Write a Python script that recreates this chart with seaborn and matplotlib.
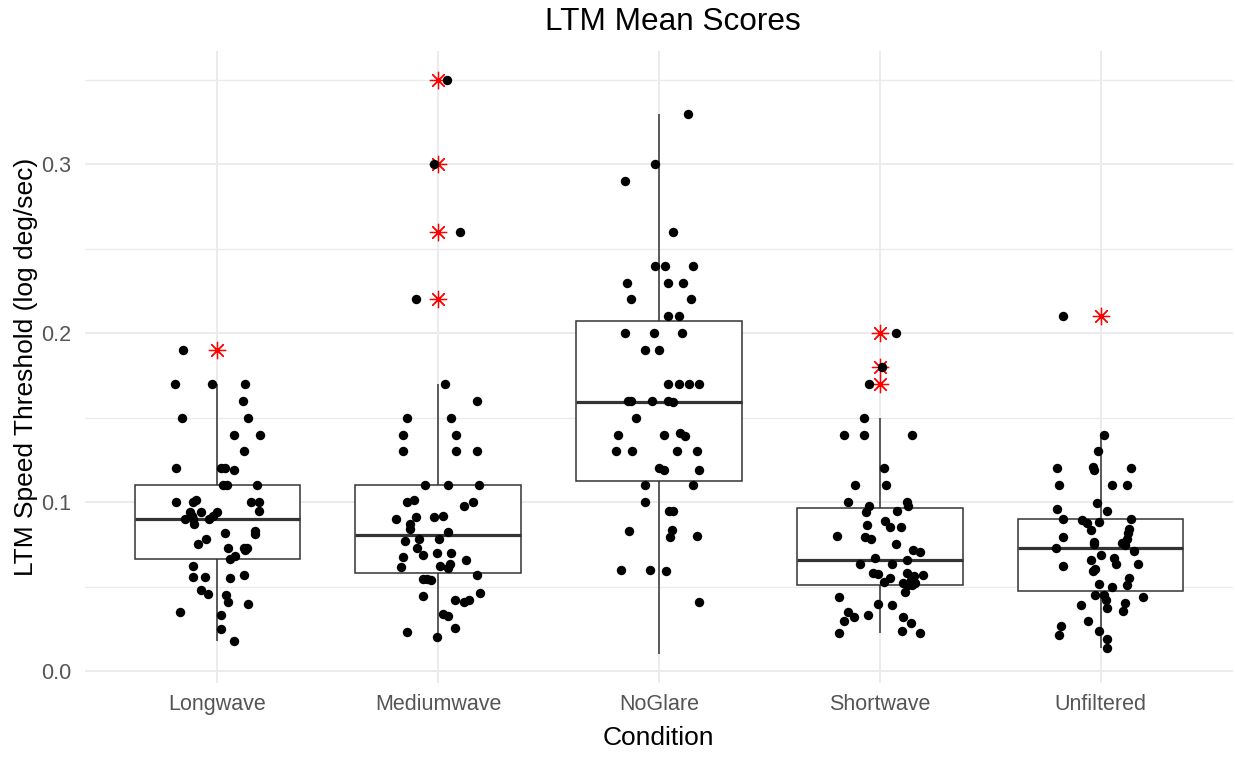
import numpy as np
import pandas as pd
import matplotlib
matplotlib.use("Agg")
import matplotlib.pyplot as plt
import seaborn as sns

# --- data ---
conditions = ["Longwave", "Mediumwave", "NoGlare", "Shortwave", "Unfiltered"]

longwave = [0.190, 0.170, 0.170, 0.170, 0.160, 0.150, 0.150, 0.140, 0.140, 0.130,
            0.120, 0.120, 0.120, 0.119, 0.110, 0.110, 0.110, 0.100, 0.100, 0.101,
            0.100, 0.100, 0.095, 0.094, 0.094, 0.094, 0.092, 0.090, 0.090, 0.090,
            0.087, 0.082, 0.083, 0.081, 0.078, 0.075, 0.073, 0.073, 0.073, 0.0665,
            0.068, 0.062, 0.056, 0.056, 0.055, 0.057, 0.048, 0.0455, 0.045, 0.041,
            0.040, 0.035, 0.033, 0.025, 0.018, 0.092, 0.072]
longwave_jit = [-0.155, -0.194, -0.024, 0.127, 0.115, -0.162, 0.139, 0.073, 0.194, 0.121,
                -0.186, 0.018, 0.036, 0.074, 0.024, 0.042, 0.179, -0.186, -0.112, -0.095,
                0.153, 0.188, 0.188, -0.123, -0.073, 0.000, -0.018, -0.145, -0.112, -0.039,
                -0.105, 0.036, 0.170, 0.172, -0.053, -0.090, 0.049, 0.118, 0.136, 0.058,
                0.079, -0.112, -0.112, -0.056, 0.058, 0.121, -0.073, -0.042, 0.039, 0.049,
                0.139, -0.171, 0.018, 0.018, 0.073, -0.115, 0.125]

mediumwave = [0.350, 0.300, 0.260, 0.220, 0.170, 0.160, 0.150, 0.150, 0.140, 0.140,
              0.130, 0.130, 0.130, 0.110, 0.110, 0.110, 0.100, 0.101, 0.098, 0.100,
              0.090, 0.091, 0.091, 0.092, 0.087, 0.084, 0.0825, 0.077, 0.0785, 0.0785,
              0.073, 0.069, 0.070, 0.070, 0.0677, 0.0615, 0.062, 0.0635, 0.061, 0.0657,
              0.057, 0.0547, 0.0538, 0.0547, 0.0444, 0.0465, 0.0424, 0.0408, 0.0424, 0.0337,
              0.0327, 0.0257, 0.0233, 0.0203]
mediumwave_jit = [0.040, -0.020, 0.100, -0.100, 0.030, 0.175, -0.143, 0.060, -0.158, 0.081,
                  -0.158, 0.081, 0.175, -0.060, 0.042, 0.184, -0.140, -0.110, 0.115, 0.158,
                  -0.190, -0.100, -0.020, 0.020, -0.128, -0.130, 0.042, -0.150, -0.087, 0.002,
                  -0.097, -0.068, -0.007, 0.060, -0.158, -0.167, 0.010, 0.052, 0.042, 0.124,
                  0.175, -0.068, -0.035, -0.050, -0.068, 0.190, 0.077, 0.118, 0.140, 0.020,
                  0.042, 0.077, -0.143, -0.007]

# last value only shows up as the whisker end, no point is drawn for it
noglare = [0.330, 0.300, 0.290, 0.260, 0.240, 0.240, 0.240, 0.230, 0.230, 0.230,
           0.220, 0.220, 0.210, 0.210, 0.200, 0.200, 0.200, 0.190, 0.190, 0.170,
           0.170, 0.170, 0.170, 0.160, 0.160, 0.160, 0.160, 0.159, 0.150, 0.140,
           0.140, 0.141, 0.139, 0.130, 0.130, 0.130, 0.130, 0.120, 0.119, 0.119,
           0.110, 0.110, 0.100, 0.095, 0.095, 0.083, 0.0837, 0.0795, 0.080, 0.060,
           0.060, 0.059, 0.041, 0.010]
noglare_jit = [0.130, -0.016, -0.154, 0.065, -0.016, 0.026, 0.152, -0.145, 0.040, 0.110,
               -0.128, 0.145, 0.040, 0.090, -0.154, -0.024, 0.105, -0.064, 0.002, 0.040,
               0.089, 0.137, 0.180, -0.142, -0.125, -0.030, 0.040, 0.065, -0.104, -0.186,
               0.024, 0.096, 0.116, -0.195, -0.121, 0.080, 0.170, 0.000, 0.024, 0.180,
               -0.064, 0.152, -0.064, 0.045, 0.063, -0.137, 0.057, 0.048, 0.170, -0.170,
               -0.039, 0.032, 0.180, np.nan]

shortwave = [0.200, 0.180, 0.170, 0.150, 0.140, 0.140, 0.140, 0.120, 0.110, 0.110,
             0.100, 0.098, 0.100, 0.098, 0.094, 0.095, 0.0866, 0.089, 0.0854, 0.0854,
             0.080, 0.0795, 0.078, 0.075, 0.072, 0.0706, 0.0669, 0.0657, 0.0633, 0.0633,
             0.0583, 0.0574, 0.0552, 0.0583, 0.0564, 0.057, 0.053, 0.052, 0.0509, 0.0523,
             0.0469, 0.0436, 0.040, 0.0393, 0.035, 0.0331, 0.032, 0.0298, 0.0322, 0.0286,
             0.0227, 0.0235, 0.0225, 0.054, 0.051]
shortwave_jit = [0.073, 0.010, -0.050, -0.073, -0.162, -0.073, 0.146, 0.017, -0.113, 0.026,
                 -0.145, -0.048, 0.122, 0.130, -0.064, 0.080, -0.056, 0.024, 0.048, 0.096,
                 -0.193, -0.066, -0.039, 0.073, 0.149, 0.180, -0.020, 0.122, -0.091, 0.057,
                 -0.032, -0.006, 0.048, 0.122, 0.155, 0.196, 0.017, 0.106, 0.130, 0.160,
                 0.113, -0.186, -0.009, 0.057, -0.145, -0.054, -0.118, -0.160, 0.106, 0.140,
                 -0.186, 0.100, 0.180, 0.140, 0.145]

unfiltered = [0.210, 0.140, 0.130, 0.120, 0.121, 0.119, 0.120, 0.110, 0.110, 0.110,
              0.0995, 0.096, 0.095, 0.090, 0.0893, 0.0874, 0.0834, 0.0885, 0.090, 0.0844,
              0.0815, 0.0785, 0.076, 0.0792, 0.0763, 0.073, 0.071, 0.0686, 0.0659, 0.0669,
              0.0633, 0.0635, 0.0623, 0.0607, 0.0592, 0.0554, 0.0509, 0.0517, 0.050, 0.0448,
              0.0448, 0.042, 0.0436, 0.0394, 0.0402, 0.0371, 0.0359, 0.0298, 0.0268, 0.0215,
              0.0235, 0.0193, 0.014, 0.0745, 0.075]
unfiltered_jit = [-0.170, 0.016, -0.010, -0.195, -0.035, -0.030, 0.140, -0.186, 0.050, 0.120,
                  -0.018, -0.195, 0.030, -0.170, -0.086, -0.063, -0.042, -0.009, 0.140, 0.130,
                  0.126, 0.118, 0.095, -0.170, -0.030, -0.200, 0.153, 0.000, -0.042, 0.063,
                  0.070, 0.168, -0.170, -0.026, -0.033, 0.130, 0.120, -0.009, 0.050, -0.026,
                  0.015, 0.024, 0.193, -0.089, 0.113, 0.030, 0.104, -0.059, -0.178, -0.186,
                  -0.009, 0.030, 0.030, 0.110, -0.030]

yticks = [0.0, 0.1, 0.2, 0.3]
ytick_labels = ["0.0", "0.1", "0.2", "0.3"]

# --- long table ---
groups = [longwave, mediumwave, noglare, shortwave, unfiltered]
jits = [longwave_jit, mediumwave_jit, noglare_jit, shortwave_jit, unfiltered_jit]
frames = []
for i, (cond, vals, jit) in enumerate(zip(conditions, groups, jits)):
    frames.append(pd.DataFrame({"condition": cond, "score": vals,
                                "xpos": i + np.array(jit, dtype=float)}))
df = pd.concat(frames, ignore_index=True)

# --- plot ---
sns.set_theme(style="white")
plt.rcParams['font.family'] = ['Liberation Sans', 'DejaVu Sans']

W, H = 1235, 761
fig = plt.figure(figsize=(W / 100, H / 100), dpi=100)
ax = fig.add_axes([85 / W, 78 / H, 1148 / W, 632 / H])

line_col = "#333333"
sns.boxplot(data=df, x="condition", y="score", order=conditions, width=0.75,
            color="white", linecolor=line_col, linewidth=1.1, showcaps=False,
            fliersize=12.5,
            flierprops=dict(marker=(8, 2, 0), markeredgecolor="red",
                            markeredgewidth=0.9),
            medianprops=dict(linewidth=2.3, color=line_col),
            ax=ax)

sns.scatterplot(data=df.dropna(subset=["xpos"]), x="xpos", y="score",
                color="black", s=46, linewidth=0, zorder=4, ax=ax)

ax.set_xlim(-0.6, 4.6)
ax.set_ylim(-0.007, 0.367)
ax.set_xticks(range(len(conditions)), labels=conditions)
ax.set_yticks(yticks, labels=ytick_labels)
ax.set_yticks([0.05, 0.15, 0.25, 0.35], minor=True)
ax.set_xlabel("")
ax.set_ylabel("")

ax.grid(True, which="major", color="#EBEBEB", linewidth=1.4, zorder=0)
ax.grid(True, which="minor", axis="y", color="#EBEBEB", linewidth=1.0, zorder=0)
ax.set_axisbelow(True)
for s in ax.spines.values():
    s.set_visible(False)
ax.tick_params(axis="both", which="both", length=0, labelsize=15.5,
               labelcolor="#555555")
ax.tick_params(axis="y", pad=10)
ax.tick_params(axis="x", pad=8)

fig.text(672.5 / W, 1 - 29.5 / H, "LTM Mean Scores", ha="center", va="baseline",
         fontsize=22.7, color="black")
fig.text(658 / W, 1 - 745 / H, "Condition", ha="center", va="baseline",
         fontsize=19, color="black")
fig.text(33 / W, 1 - 367 / H, "LTM Speed Threshold (log deg/sec)", rotation=90,
         rotation_mode="anchor", ha="center", va="baseline", fontsize=19,
         color="black")

fig.savefig("out.png", dpi=100)
